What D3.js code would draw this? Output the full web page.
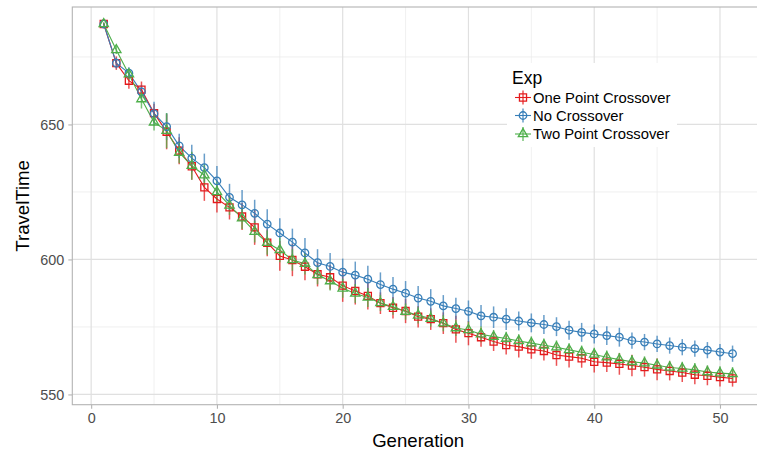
<!DOCTYPE html>
<html>
<head>
<meta charset="utf-8">
<script src="https://cdn.jsdelivr.net/npm/d3@7"></script>
<style>
  body { margin: 0; background: #fff; }
  svg { display: block; font-family: "Liberation Sans", Arial, sans-serif; }
</style>
</head>
<body>
<div id="chart"></div>
<script>
// series names (legend order) and colours
var seriesNames = ["One Point Crossover", "No Crossover", "Two Point Crossover"];
var seriesColors = ["#E41A1C", "#377EB8", "#4DAF4A"];

// generations 1..51
var generations = d3.range(1, 52);

// mean TravelTime per generation
var onePoint = [687.2, 672.7, 666.2, 662.9, 654.2, 647.3, 640.3, 634.5, 626.7, 622.4,
  619.3, 615.9, 611.9, 606.2, 601.3, 599.8, 597.3, 594.5, 593.4, 590.3,
  588.3, 586.5, 583.8, 582.1, 580.9, 578.8, 577.9, 576.4, 574.1, 572.7,
  571.2, 569.6, 568.3, 567.7, 566.7, 566.1, 564.6, 564.0, 563.4, 562.1,
  561.8, 561.3, 560.7, 560.1, 559.3, 558.7, 558.1, 557.3, 556.9, 556.4, 555.9];
var noCross = [687.2, 672.7, 669.0, 662.1, 654.0, 649.2, 642.1, 637.5, 634.0, 629.1,
  623.0, 620.2, 617.1, 613.1, 609.8, 606.4, 602.4, 598.8, 597.4, 595.3,
  594.2, 592.7, 590.7, 589.0, 587.5, 585.7, 584.5, 582.8, 581.8, 580.8,
  579.1, 578.6, 577.9, 577.2, 576.5, 575.9, 575.1, 573.8, 573.0, 572.4,
  571.8, 571.2, 569.9, 569.4, 568.7, 568.1, 567.5, 567.0, 566.4, 565.7, 565.1];
var twoPoint = [687.2, 677.6, 668.6, 659.4, 650.8, 647.7, 639.6, 634.7, 631.2, 625.0,
  620.0, 615.3, 610.3, 606.2, 603.5, 599.8, 598.4, 594.3, 592.0, 589.3,
  587.4, 585.9, 583.9, 582.5, 580.7, 579.3, 578.1, 576.4, 574.6, 573.9,
  572.3, 571.4, 570.7, 569.8, 569.0, 568.2, 567.5, 566.5, 565.6, 564.8,
  563.8, 562.9, 562.1, 561.6, 560.8, 560.0, 559.6, 559.1, 558.3, 557.9, 557.6];

// error bar half-widths (estimated)
var onePointErr = [0.5, 2.5, 3.0, 3.0, 3.5, 6.5, 5.0, 5.0, 5.0, 5.0,
  4.5, 5.0, 6.5, 5.0, 5.5, 6.0, 5.0, 4.5, 4.5, 6.0,
  5.0, 5.0, 4.0, 4.0, 4.5, 4.0, 4.0, 4.0, 5.0, 4.5,
  3.5, 3.5, 3.5, 4.0, 3.5, 3.5, 4.0, 4.0, 3.5, 4.0,
  3.5, 4.0, 4.0, 3.5, 4.0, 3.5, 3.5, 3.5, 3.5, 3.5, 3.0];
var noCrossErr = [0.5, 2.0, 2.2, 2.5, 4.4, 5.0, 4.5, 5.0, 5.2, 5.5,
  5.0, 5.5, 5.0, 5.5, 5.5, 5.0, 5.5, 5.0, 5.0, 5.0,
  5.0, 5.0, 4.5, 4.5, 4.5, 4.5, 4.5, 4.0, 4.0, 4.0,
  4.0, 4.0, 4.0, 3.5, 3.5, 3.5, 3.5, 3.5, 3.5, 3.5,
  3.5, 3.5, 3.0, 3.0, 3.0, 3.0, 3.0, 3.0, 3.0, 3.0, 3.0];
var twoPointErr = [0.5, 1.5, 2.0, 3.5, 3.0, 6.5, 4.0, 5.2, 4.0, 4.0,
  3.5, 4.0, 4.0, 4.5, 4.5, 4.0, 4.0, 3.5, 3.5, 3.5,
  3.5, 3.5, 3.0, 3.0, 3.0, 3.0, 3.0, 3.0, 3.0, 3.0,
  3.0, 2.5, 2.5, 2.5, 2.5, 2.5, 2.5, 2.5, 2.5, 2.5,
  2.5, 2.5, 2.5, 2.5, 2.5, 2.5, 2.5, 2.5, 2.5, 2.5, 2.5];

var xTicks = [0, 10, 20, 30, 40, 50];
var xMinor = [5, 15, 25, 35, 45];
var yTicks = [550, 600, 650];
var yMinor = [575, 625, 675];

var seriesValues = [onePoint, noCross, twoPoint];
var seriesErrors = [onePointErr, noCrossErr, twoPointErr];
var seriesShapes = [d3.symbolSquare, d3.symbolCircle, d3.symbolTriangle];
var shapeSizes = [50, 44, 38];

// set the dimensions and margins of the graph
var W = 757, H = 452;
var margin = { top: 7, left: 72.3 },
    width = 764 - margin.left,
    height = 404.7 - margin.top;

var svg = d3.select("#chart")
    .append("svg")
    .attr("width", W)
    .attr("height", H);

var g = svg.append("g")
    .attr("transform", "translate(" + margin.left + "," + margin.top + ")");

var x = d3.scaleLinear().domain([-1.5, 53.5]).range([0, width]);
var y = d3.scaleLinear().domain([546.2, 693.5]).range([height, 0]);

// grid lines
g.selectAll(".xminor").data(xMinor).enter().append("line")
    .attr("x1", d => x(d)).attr("x2", d => x(d))
    .attr("y1", 0).attr("y2", height)
    .attr("stroke", "#ececec").attr("stroke-width", 0.8);
g.selectAll(".yminor").data(yMinor).enter().append("line")
    .attr("y1", d => y(d)).attr("y2", d => y(d))
    .attr("x1", 0).attr("x2", width)
    .attr("stroke", "#ececec").attr("stroke-width", 0.8);
g.selectAll(".xmajor").data(xTicks).enter().append("line")
    .attr("x1", d => x(d)).attr("x2", d => x(d))
    .attr("y1", 0).attr("y2", height)
    .attr("stroke", "#e0e0e0").attr("stroke-width", 1.2);
g.selectAll(".ymajor").data(yTicks).enter().append("line")
    .attr("y1", d => y(d)).attr("y2", d => y(d))
    .attr("x1", 0).attr("x2", width)
    .attr("stroke", "#e0e0e0").attr("stroke-width", 1.2);

// axes
var xAxis = g.append("g")
    .attr("transform", "translate(0," + height + ")")
    .call(d3.axisBottom(x).tickValues(xTicks).tickSize(4).tickPadding(4));
var yAxis = g.append("g")
    .call(d3.axisLeft(y).tickValues(yTicks).tickSize(4).tickPadding(4));
[xAxis, yAxis].forEach(function (a) {
    a.select(".domain").remove();
    a.selectAll("line").attr("stroke", "#b3b3b3").attr("stroke-width", 1.1);
    a.selectAll("text").attr("fill", "#4d4d4d").style("font-size", "14.4px");
});

// panel border
g.append("rect")
    .attr("x", 0).attr("y", 0)
    .attr("width", width).attr("height", height)
    .attr("fill", "none")
    .attr("stroke", "#b3b3b3").attr("stroke-width", 1.1);

// error bars
seriesValues.forEach(function (vals, i) {
    g.append("g").selectAll("line")
        .data(generations)
        .enter().append("line")
        .attr("x1", d => x(d)).attr("x2", d => x(d))
        .attr("y1", (d, j) => y(vals[j] - seriesErrors[i][j]))
        .attr("y2", (d, j) => y(vals[j] + seriesErrors[i][j]))
        .attr("stroke", seriesColors[i])
        .attr("stroke-opacity", 0.75)
        .attr("stroke-width", 1.5);
});

// lines
var line = d3.line()
    .x((d, j) => x(generations[j]))
    .y(d => y(d));
seriesValues.forEach(function (vals, i) {
    g.append("path")
        .datum(vals)
        .attr("d", line)
        .attr("fill", "none")
        .attr("stroke", seriesColors[i])
        .attr("stroke-width", 1.1);
});

// points
seriesValues.forEach(function (vals, i) {
    g.append("g").selectAll("path")
        .data(vals)
        .enter().append("path")
        .attr("transform", (d, j) => "translate(" + x(generations[j]) + "," + y(d) + ")")
        .attr("d", d3.symbol().type(seriesShapes[i]).size(shapeSizes[i]))
        .attr("fill", "none")
        .attr("stroke", seriesColors[i])
        .attr("stroke-width", 1.3);
});

// axis titles
svg.append("text")
    .attr("x", margin.left + width / 2)
    .attr("y", 447)
    .attr("text-anchor", "middle")
    .style("font-size", "18.6px")
    .text("Generation");
svg.append("text")
    .attr("transform", "translate(29," + (margin.top + height / 2) + ") rotate(-90)")
    .attr("text-anchor", "middle")
    .style("font-size", "18.6px")
    .text("TravelTime");

// legend
var legend = svg.append("g");
legend.append("rect")
    .attr("x", 507).attr("y", 63)
    .attr("width", 170).attr("height", 84)
    .attr("fill", "#fff");
legend.append("text")
    .attr("x", 512).attr("y", 84)
    .style("font-size", "17.5px")
    .text("Exp");
var rowY = [97.5, 115.5, 134];
seriesNames.forEach(function (name, i) {
    var k = legend.append("g").attr("transform", "translate(523," + rowY[i] + ")");
    k.append("line").attr("x1", -8).attr("x2", 8).attr("y1", 0).attr("y2", 0)
        .attr("stroke", seriesColors[i]).attr("stroke-width", 1.1);
    k.append("line").attr("x1", 0).attr("x2", 0).attr("y1", -7).attr("y2", 7)
        .attr("stroke", seriesColors[i]).attr("stroke-opacity", 0.75).attr("stroke-width", 1.5);
    k.append("path")
        .attr("d", d3.symbol().type(seriesShapes[i]).size(shapeSizes[i]))
        .attr("fill", "none")
        .attr("stroke", seriesColors[i])
        .attr("stroke-width", 1.3);
    legend.append("text")
        .attr("x", 533).attr("y", rowY[i] + 5)
        .style("font-size", "14.8px")
        .text(name);
});
</script>
</body>
</html>
